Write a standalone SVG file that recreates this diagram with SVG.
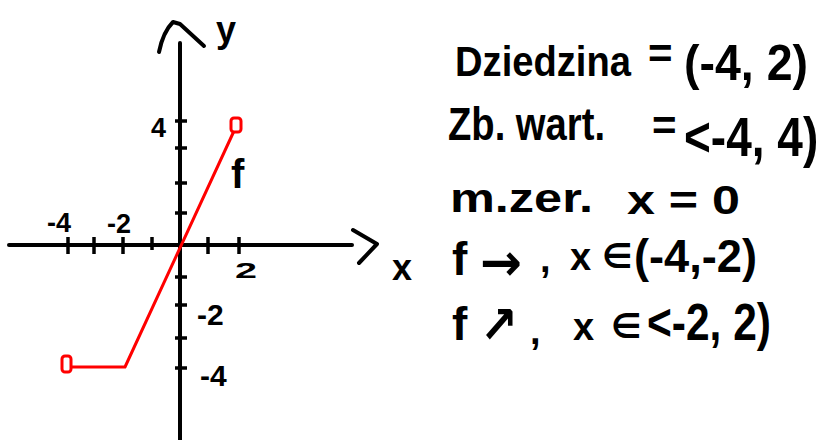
<svg xmlns="http://www.w3.org/2000/svg" width="823" height="440" viewBox="0 0 823 440">
<style>
.ax{stroke:#000;stroke-width:4;fill:none;stroke-linecap:round;stroke-linejoin:round}
.tk{stroke:#000;stroke-width:3.5;fill:none}
.rd{stroke:#f00;stroke-width:3;fill:none;stroke-linejoin:round}
text{font-family:"Liberation Sans","DejaVu Sans",sans-serif;fill:#000;font-weight:bold}
.ar{font-family:"DejaVu Sans",sans-serif}
.lb{font-size:27px}
.nt{font-size:42px}
</style>
<rect width="823" height="440" fill="#fff"/>
<g id="axes">
<line class="ax" x1="9" y1="245" x2="352" y2="245"/>
<line class="ax" x1="180" y1="43" x2="180" y2="440"/>
<path class="ax" d="M159 52 Q163 32 173 22 L180 24 L204 46"/>
<path class="ax" d="M353 230 L377 244 L359 263"/>
<g id="xticks">
<line class="tk" x1="68" y1="237" x2="68" y2="254"/>
<line class="tk" x1="94" y1="237" x2="94" y2="254"/>
<line class="tk" x1="123" y1="237" x2="123" y2="254"/>
<line class="tk" x1="152" y1="237" x2="152" y2="250"/>
<line class="tk" x1="208" y1="237" x2="208" y2="254"/>
<line class="tk" x1="239" y1="237" x2="239" y2="254"/>
</g>
<g id="yticks">
<line class="tk" x1="175" y1="121" x2="187" y2="121"/>
<line class="tk" x1="175" y1="148" x2="187" y2="148"/>
<line class="tk" x1="175" y1="183" x2="187" y2="183"/>
<line class="tk" x1="175" y1="213" x2="187" y2="213"/>
<line class="tk" x1="175" y1="277" x2="187" y2="277"/>
<line class="tk" x1="175" y1="305" x2="187" y2="305"/>
<line class="tk" x1="175" y1="338" x2="187" y2="338"/>
<line class="tk" x1="175" y1="368" x2="187" y2="368"/>
</g>
</g>
<g id="graph">
<path class="rd" d="M71 367 L125 367 L234 131"/>
<rect class="rd" x="62" y="356" width="9" height="16" rx="3"/>
<rect class="rd" x="231" y="118" width="10" height="14" rx="3"/>
</g>
<g id="axis-labels">
<text x="216" y="42" font-size="36">y</text>
<text x="392" y="280" font-size="36">x</text>
<text class="lb" x="151" y="137">4</text>
<text class="lb" x="47" y="232">-4</text>
<text class="lb" x="107" y="233">-2</text>
<text x="235" y="278" font-size="22" textLength="22" lengthAdjust="spacingAndGlyphs">2</text>
<text x="197" y="325" font-size="30">-2</text>
<text x="200" y="386" font-size="30">-4</text>
<text x="231" y="188" font-size="40">f</text>
</g>
<g id="notes">
<text class="nt" x="455" y="76" textLength="176" lengthAdjust="spacingAndGlyphs">Dziedzina</text>
<text class="nt" x="648" y="68">=</text>
<text x="684" y="80" font-size="50" textLength="124" lengthAdjust="spacingAndGlyphs">(-4, 2)</text>
<text x="448" y="140" font-size="46" textLength="157" lengthAdjust="spacingAndGlyphs">Zb. wart.</text>
<text class="nt" x="652" y="140">=</text>
<text transform="translate(684 156) scale(1 1.2)" font-size="46">&lt;-4, 4)</text>
<text x="450" y="212" font-size="40" textLength="143" lengthAdjust="spacingAndGlyphs">m.zer.</text>
<text x="627" y="214" font-size="40" textLength="113" lengthAdjust="spacingAndGlyphs">x = 0</text>
<text x="452" y="275" font-size="46">f</text>
<text class="ar" x="480" y="280" font-size="52" textLength="42" lengthAdjust="spacingAndGlyphs">→</text>
<text x="540" y="272" font-size="38">,</text>
<text x="570" y="270" font-size="38">x</text>
<text x="602" y="268" font-size="34">∈</text>
<text x="634" y="272" font-size="46" textLength="123" lengthAdjust="spacingAndGlyphs">(-4,-2)</text>
<text x="452" y="340" font-size="46">f</text>
<text class="ar" x="480" y="343" font-size="52" textLength="38" lengthAdjust="spacingAndGlyphs">↗</text>
<text x="530" y="344" font-size="38">,</text>
<text x="573" y="340" font-size="38">x</text>
<text x="611" y="338" font-size="34">∈</text>
<text x="647" y="340" font-size="52" textLength="124" lengthAdjust="spacingAndGlyphs">&lt;-2, 2)</text>
</g>
</svg>
